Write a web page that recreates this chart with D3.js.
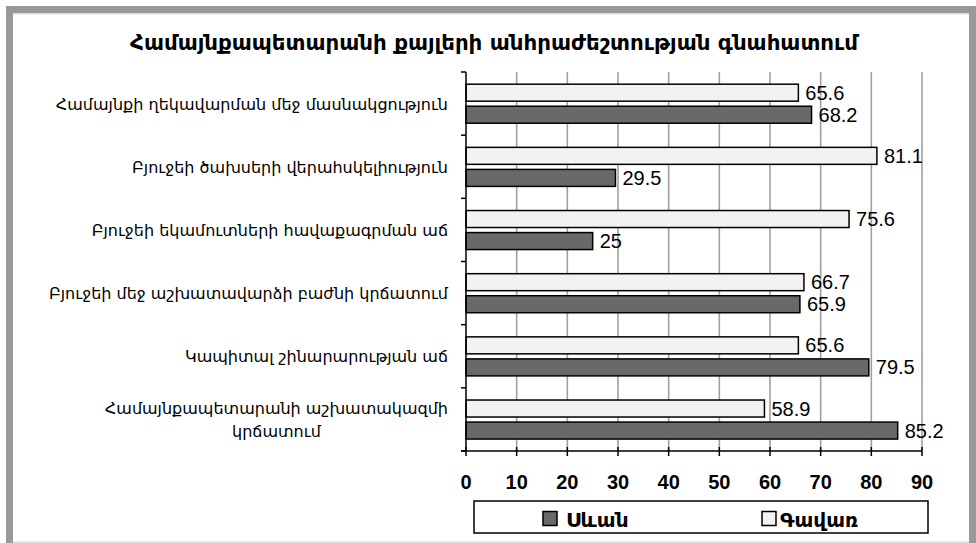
<!DOCTYPE html>
<html>
<head>
<meta charset="utf-8">
<script src="https://cdn.jsdelivr.net/npm/d3@7"></script>
<style>
  html, body { margin: 0; padding: 0; background: #fff; }
  svg { display: block; }
</style>
</head>
<body>
<svg id="chart" width="976" height="543"></svg>
<script>
const title = "Համայնքապետարանի քայլերի անհրաժեշտության գնահատում";
const categories = [
  "Համայնքի ղեկավարման մեջ մասնակցություն",
  "Բյուջեի ծախսերի վերահսկելիություն",
  "Բյուջեի եկամուտների հավաքագրման աճ",
  "Բյուջեի մեջ աշխատավարձի բաժնի կրճատում",
  "Կապիտալ շինարարության աճ",
  "Համայնքապետարանի աշխատակազմի կրճատում"
];
const categoryLines = [
  ["Համայնքի ղեկավարման մեջ մասնակցություն"],
  ["Բյուջեի ծախսերի վերահսկելիություն"],
  ["Բյուջեի եկամուտների հավաքագրման աճ"],
  ["Բյուջեի մեջ աշխատավարձի բաժնի կրճատում"],
  ["Կապիտալ շինարարության աճ"],
  ["Համայնքապետարանի աշխատակազմի", "կրճատում"]
];
const seriesNames = ["Սևան", "Գավառ"];
const sevan = [68.2, 29.5, 25, 65.9, 79.5, 85.2];
const gavar = [65.6, 81.1, 75.6, 66.7, 65.6, 58.9];
const xTicks = [0, 10, 20, 30, 40, 50, 60, 70, 80, 90];

const svg = d3.select("#chart");

// frame
svg.append("rect").attr("x", 9.5).attr("y", 9.5).attr("width", 963).attr("height", 537)
  .attr("fill", "#fff").attr("stroke", "#999").attr("stroke-width", 7);
svg.append("line").attr("x1", 13).attr("x2", 969).attr("y1", 13.8).attr("y2", 13.8)
  .attr("stroke", "#dcdcdc").attr("stroke-width", 1.5);
svg.append("line").attr("x1", 13).attr("x2", 969).attr("y1", 542.3).attr("y2", 542.3)
  .attr("stroke", "#dcdcdc").attr("stroke-width", 1.5);

const x = d3.scaleLinear().domain([0, 90]).range([466, 922]);
const y = d3.scaleBand().domain(categories).range([72, 451]);
const bw = y.bandwidth();
const pad = bw * 0.193, bh = bw * 0.269, gap = bw * 0.08;

// gridlines
svg.append("g").selectAll("line").data(xTicks.slice(1)).join("line")
  .attr("x1", d => x(d)).attr("x2", d => x(d))
  .attr("y1", 72).attr("y2", 451)
  .attr("stroke", "#a0a0a0").attr("stroke-width", 1.6);

// title
svg.append("text").attr("x", 494).attr("y", 50)
  .attr("text-anchor", "middle")
  .attr("font-family", "DejaVu Sans").attr("font-weight", "bold").attr("font-size", 20.5)
  .attr("textLength", 728).attr("lengthAdjust", "spacingAndGlyphs")
  .attr("fill", "#000").text(title);

// bars
const data = categories.map((c, i) => ({c, sevan: sevan[i], gavar: gavar[i]}));
const g = svg.append("g");
g.selectAll("rect.gavar").data(data).join("rect").attr("class", "gavar")
  .attr("x", x(0)).attr("y", d => y(d.c) + pad)
  .attr("width", d => x(d.gavar) - x(0)).attr("height", bh)
  .attr("fill", "#f2f2f2").attr("stroke", "#000").attr("stroke-width", 1.5);
g.selectAll("rect.sevan").data(data).join("rect").attr("class", "sevan")
  .attr("x", x(0)).attr("y", d => y(d.c) + pad + bh + gap)
  .attr("width", d => x(d.sevan) - x(0)).attr("height", bh)
  .attr("fill", "#696969").attr("stroke", "#000").attr("stroke-width", 1.5);

// data labels
const lab = svg.append("g").attr("font-family", "Liberation Sans, Arial").attr("font-size", 20).attr("fill", "#000");
lab.selectAll("text.gl").data(data).join("text").attr("class", "gl")
  .attr("x", d => x(d.gavar) + 7).attr("y", d => y(d.c) + pad + bh / 2 + 7)
  .text(d => d.gavar);
lab.selectAll("text.sl").data(data).join("text").attr("class", "sl")
  .attr("x", d => x(d.sevan) + 7).attr("y", d => y(d.c) + pad + bh + gap + bh / 2 + 7)
  .text(d => d.sevan);

// x axis
const xAxis = svg.append("g").attr("transform", "translate(0,451)");
xAxis.append("line").attr("x1", x(0) - 5).attr("x2", x(90)).attr("stroke", "#000").attr("stroke-width", 1.5);
xAxis.selectAll("line.t").data(xTicks).join("line").attr("class", "t")
  .attr("x1", d => x(d)).attr("x2", d => x(d)).attr("y1", -4).attr("y2", 5)
  .attr("stroke", "#000").attr("stroke-width", 1.5);
xAxis.selectAll("text").data(xTicks).join("text")
  .attr("x", d => x(d)).attr("y", 37.5).attr("text-anchor", "middle")
  .attr("font-family", "Liberation Sans, Arial").attr("font-weight", "bold").attr("font-size", 20)
  .text(d => d);

// y axis
const yAxis = svg.append("g");
yAxis.append("line").attr("x1", x(0)).attr("x2", x(0)).attr("y1", 72).attr("y2", 451)
  .attr("stroke", "#000").attr("stroke-width", 1.5);
const yTickPos = categories.map(c => y(c)).concat([451]);
yAxis.selectAll("line.t").data(yTickPos).join("line").attr("class", "t")
  .attr("x1", x(0) - 5).attr("x2", x(0)).attr("y1", d => d).attr("y2", d => d)
  .attr("stroke", "#000").attr("stroke-width", 1.5);

// category labels
const labelRight = 448;
const cl = svg.append("g").attr("font-family", "DejaVu Sans").attr("font-size", 16).attr("fill", "#000");
categoryLines.forEach((lines, i) => {
  const cy = y(categories[i]) + bw / 2;
  const lh = 23.5;
  const t = cl.append("text");
  lines.forEach((ln, j) => {
    t.append("tspan").text(ln).attr("y", cy + 6 + (j - (lines.length - 1) / 2) * lh);
  });
  if (lines.length === 1) {
    t.attr("text-anchor", "end").selectAll("tspan").attr("x", labelRight);
  } else {
    let maxW = 0;
    t.selectAll("tspan").each(function () { maxW = Math.max(maxW, this.getComputedTextLength()); });
    t.attr("text-anchor", "middle").selectAll("tspan").attr("x", labelRight - maxW / 2);
  }
});

// legend
const lg = svg.append("g");
lg.append("rect").attr("x", 474).attr("y", 501).attr("width", 454).attr("height", 32)
  .attr("fill", "#fff").attr("stroke", "#000").attr("stroke-width", 1.5);
const legendItems = [
  {name: seriesNames[0], fill: "#696969", sx: 543, tx: 566},
  {name: seriesNames[1], fill: "#f2f2f2", sx: 762, tx: 780}
];
legendItems.forEach(it => {
  lg.append("rect").attr("x", it.sx).attr("y", 511.5).attr("width", 14).attr("height", 14)
    .attr("fill", it.fill).attr("stroke", "#000").attr("stroke-width", 1.5);
  lg.append("text").attr("x", it.tx).attr("y", 527)
    .attr("font-family", "DejaVu Sans").attr("font-weight", "bold").attr("font-size", 20)
    .text(it.name);
});
</script>
</body>
</html>
